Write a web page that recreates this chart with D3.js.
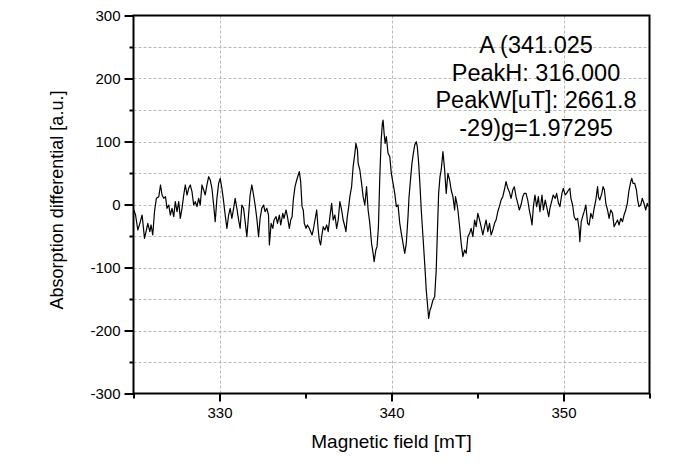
<!DOCTYPE html>
<html>
<head>
<meta charset="utf-8">
<script src="https://cdn.jsdelivr.net/npm/d3@7"></script>
<style>
  html, body { margin: 0; padding: 0; background: #fff; }
  svg { display: block; }
  text { font-family: "Liberation Sans", Arial, sans-serif; fill: #000; }
</style>
</head>
<body>
<svg id="chart" width="674" height="474"></svg>
<script>
// ---- data ----
const field = [
  325.02,325.12,325.25,325.37,325.50,325.64,325.75,325.83,325.95,326.02,
  326.12,326.22,326.33,326.47,326.57,326.66,326.76,326.86,326.95,327.05,
  327.14,327.24,327.34,327.43,327.53,327.63,327.72,327.82,327.92,328.01,
  328.11,328.21,328.30,328.40,328.50,328.59,328.69,328.79,328.88,328.98,
  329.08,329.17,329.27,329.37,329.46,329.56,329.66,329.75,329.85,329.95,
  330.04,330.14,330.24,330.33,330.43,330.53,330.62,330.72,330.82,330.91,
  331.01,331.11,331.20,331.30,331.40,331.49,331.59,331.69,331.78,331.88,
  331.98,332.07,332.17,332.27,332.36,332.46,332.56,332.65,332.75,332.85,
  332.90,333.00,333.10,333.17,333.29,333.37,333.48,333.56,333.68,333.75,
  333.87,333.95,334.06,334.14,334.22,334.29,334.39,334.49,334.58,334.64,
  334.72,334.80,334.87,334.93,335.03,335.11,335.22,335.30,335.38,335.45,
  335.55,335.65,335.74,335.80,335.88,335.94,336.03,336.13,336.23,336.32,
  336.42,336.52,336.61,336.71,336.81,336.90,337.00,337.10,337.19,337.29,
  337.35,337.43,337.50,337.58,337.68,337.77,337.87,337.93,338.02,338.06,
  338.16,338.26,338.35,338.45,338.55,338.64,338.74,338.84,338.93,338.99,
  339.09,339.16,339.24,339.32,339.40,339.47,339.51,339.57,339.63,339.70,
  339.80,339.90,339.99,340.09,340.19,340.28,340.38,340.48,340.57,340.67,
  340.77,340.86,340.96,341.02,341.12,341.19,341.27,341.35,341.44,341.50,
  341.58,341.66,341.73,341.83,341.93,342.02,342.12,342.16,342.24,342.31,
  342.41,342.51,342.60,342.66,342.74,342.82,342.89,342.99,343.09,343.18,
  343.28,343.38,343.47,343.57,343.67,343.72,343.80,343.86,343.96,344.05,
  344.15,344.25,344.34,344.44,344.54,344.63,344.73,344.83,344.92,345.02,
  345.12,345.21,345.31,345.41,345.50,345.60,345.70,345.79,345.89,345.99,
  346.08,346.18,346.27,346.37,346.47,346.56,346.66,346.76,346.85,346.95,
  347.05,347.14,347.24,347.34,347.43,347.53,347.63,347.72,347.82,347.92,
  348.01,348.11,348.17,348.25,348.34,348.44,348.54,348.63,348.75,348.83,
  348.94,349.02,349.14,349.21,349.33,349.40,349.52,349.60,349.71,349.79,
  349.91,349.99,350.10,350.18,350.29,350.37,350.43,350.53,350.62,350.72,
  350.82,350.91,350.95,351.03,351.11,351.20,351.30,351.40,351.49,351.59,
  351.69,351.78,351.88,351.98,352.03,352.11,352.23,352.30,352.38,352.46,
  352.56,352.65,352.75,352.85,352.94,353.04,353.14,353.23,353.33,353.43,
  353.52,353.62,353.71,353.81,353.91,353.97,354.04,354.14,354.24,354.31,
  354.39,354.49,354.58,354.68,354.78,354.87,354.93
];
const signal = [
  -8.7,-16.7,-40.5,-29.9,-16.7,-53.7,-40.5,-29.9,-43.1,-32.5,
  -48.4,-11.4,9.8,12.4,31.0,15.1,9.8,12.4,-6.1,-0.8,
  -16.7,-6.1,-19.3,4.5,-11.4,4.5,-22.0,-6.1,15.1,31.0,
  15.1,25.7,31.0,20.4,-0.8,4.5,-3.4,9.8,-0.8,31.0,
  23.0,15.1,31.0,44.2,38.9,25.7,-0.8,-27.2,9.8,33.6,
  41.5,25.7,4.5,-16.7,-37.8,-16.7,-6.1,-22.0,-6.1,9.8,
  -6.1,-24.6,-37.8,-0.8,-6.1,-27.2,-51.1,-16.7,15.1,31.0,
  15.1,-0.8,-22.0,-51.1,-22.0,-6.1,-0.8,-11.4,-6.1,-16.7,
  -64.3,-29.9,-37.8,-24.6,-19.3,-29.9,-16.7,-32.5,-14.0,-22.0,
  -8.7,-19.3,-37.8,-24.6,-19.3,7.1,28.3,38.9,46.8,52.1,
  36.2,-3.4,-8.7,-29.9,-37.8,-32.5,-37.8,-43.1,-48.4,-40.5,
  -24.6,-8.7,-40.5,-56.3,-64.3,-51.1,-35.2,-40.5,-32.5,-43.1,
  -19.3,1.9,-24.6,-16.7,-37.8,-24.6,4.5,-8.7,-24.6,-35.2,
  -43.1,-19.3,-6.1,12.4,28.3,60.0,81.2,97.1,86.5,65.3,
  54.8,33.6,12.4,-0.8,28.3,-8.7,-29.9,-61.6,-77.6,-90.7,
  -72.2,-66.9,-35.2,44.2,102.4,128.8,134.1,113.0,97.1,107.7,
  81.2,75.9,49.5,33.6,17.7,-3.4,-0.8,-29.9,-45.8,-61.6,
  -77.6,-61.6,-19.3,12.4,44.2,65.3,81.2,94.4,99.7,91.8,
  65.3,28.3,-8.7,-51.1,-93.4,-135.7,-167.5,-180.7,-167.5,-162.2,
  -151.6,-146.3,-104.0,-51.1,17.7,44.2,54.8,83.9,54.8,17.7,
  49.5,38.9,23.0,12.4,-8.7,12.4,1.9,-8.7,-35.2,-61.6,
  -82.8,-72.2,-77.5,-51.1,-45.8,-37.8,-51.1,-24.6,-35.2,-14.0,
  -24.6,-35.2,-48.4,-35.2,-24.6,-43.1,-29.9,-48.4,-40.5,-29.9,
  -24.6,-11.4,-3.4,7.1,12.4,23.0,36.2,25.7,20.4,9.8,
  23.0,28.3,12.4,1.9,-8.7,-0.8,12.4,17.7,17.7,7.1,
  -8.7,-22.0,-32.5,-3.4,15.1,-3.4,12.4,-11.4,15.1,-8.7,
  7.1,-3.4,-19.3,-6.1,7.1,15.1,9.8,17.7,1.9,-3.4,
  17.7,25.7,15.1,17.7,23.0,25.7,9.8,-0.8,-19.3,-24.6,
  -22.0,-40.5,-59.0,-27.2,-19.3,-11.4,-0.8,-29.9,-32.5,-14.0,
  -22.0,-6.1,7.1,28.3,12.4,7.1,17.7,28.3,23.0,1.9,
  -8.7,-22.0,-8.7,-14.0,-35.2,-29.9,-24.6,-32.5,-22.0,-27.2,
  -16.7,-8.7,1.9,23.0,36.2,41.5,33.6,33.6,23.0,7.1,
  -3.4,-0.8,9.8,1.9,-8.7,1.9,-3.4
];
const xMajorTicks = [330, 340, 350];
const xMinorTicks = [325, 335, 345, 355];
const yMajorTicks = [-300, -200, -100, 0, 100, 200, 300];
const yMinorTicks = [-250, -150, -50, 50, 150, 250];
const yGridValues = [-250, -200, -150, -100, -50, 0, 50, 100, 150, 200, 250];
const xLabel = "Magnetic field [mT]";
const yLabel = "Absorption differential [a.u.]";
const noteLines = ["A (341.025", "PeakH: 316.000", "PeakW[uT]: 2661.8", "-29)g=1.97295"];

// ---- drawing ----
const svg = d3.select("#chart");
const L = 133.5, R = 649.5, T = 15.5, B = 393.5;
const x = d3.scaleLinear().domain([325, 355]).range([L, R]);
const y = d3.scaleLinear().domain([-300, 300]).range([B, T]);
const plainFmt = d => String(d);   // ASCII hyphen-minus like the reference

// grid
const grid = svg.append("g").attr("stroke", "#b8b8b8").attr("stroke-width", 1)
  .attr("stroke-dasharray", "3,2").attr("fill", "none");
grid.selectAll("line.h").data(yGridValues).join("line").attr("class", "h")
  .attr("x1", L).attr("x2", R).attr("y1", d => Math.round(y(d)) + 0.5).attr("y2", d => Math.round(y(d)) + 0.5);
grid.selectAll("line.v").data(xMajorTicks).join("line").attr("class", "v")
  .attr("y1", T).attr("y2", B).attr("x1", d => Math.round(x(d)) + 0.5).attr("x2", d => Math.round(x(d)) + 0.5);

// trace
const pts = field.map((f, i) => [f, signal[i]]);
svg.append("path").datum(pts)
  .attr("fill", "none").attr("stroke", "#000").attr("stroke-width", 1.2)
  .attr("stroke-linejoin", "round")
  .attr("d", d3.line().x(d => x(d[0])).y(d => y(d[1])));

// axes
function styleAxis(g) {
  g.select(".domain").remove();
  g.selectAll(".tick line").attr("stroke", "#000").attr("stroke-width", 2);
  g.selectAll(".tick text").attr("font-size", 15).attr("fill", "#000")
    .attr("font-family", "'Liberation Sans', Arial, sans-serif");
}
svg.append("g").attr("transform", `translate(${L},0)`)
  .call(d3.axisLeft(y).tickValues(yMajorTicks).tickSize(9).tickPadding(4).tickFormat(plainFmt))
  .call(styleAxis);
svg.append("g").attr("transform", `translate(${L},0)`)
  .call(d3.axisLeft(y).tickValues(yMinorTicks).tickSize(4).tickFormat(""))
  .call(styleAxis);
svg.append("g").attr("transform", `translate(0,${B})`)
  .call(d3.axisBottom(x).tickValues(xMajorTicks).tickSize(8).tickPadding(6).tickFormat(plainFmt))
  .call(styleAxis);
svg.append("g").attr("transform", `translate(0,${B})`)
  .call(d3.axisBottom(x).tickValues(xMinorTicks).tickSize(5).tickFormat(""))
  .call(styleAxis);

// frame
svg.append("rect").attr("x", L).attr("y", T).attr("width", R - L).attr("height", B - T)
  .attr("fill", "none").attr("stroke", "#000").attr("stroke-width", 2);

// titles
svg.append("text").attr("x", 391.5).attr("y", 448).attr("text-anchor", "middle")
  .attr("font-size", 19).text(xLabel);
svg.append("text").attr("transform", "translate(57,200) rotate(-90)")
  .attr("text-anchor", "middle").attr("dy", "0.35em").attr("font-size", 18).text(yLabel);

// annotation
svg.append("g").selectAll("text").data(noteLines).join("text")
  .attr("x", 536).attr("y", (d, i) => 53 + i * 27.5)
  .attr("text-anchor", "middle").attr("font-size", 23.5).text(d => d);
</script>
</body>
</html>
